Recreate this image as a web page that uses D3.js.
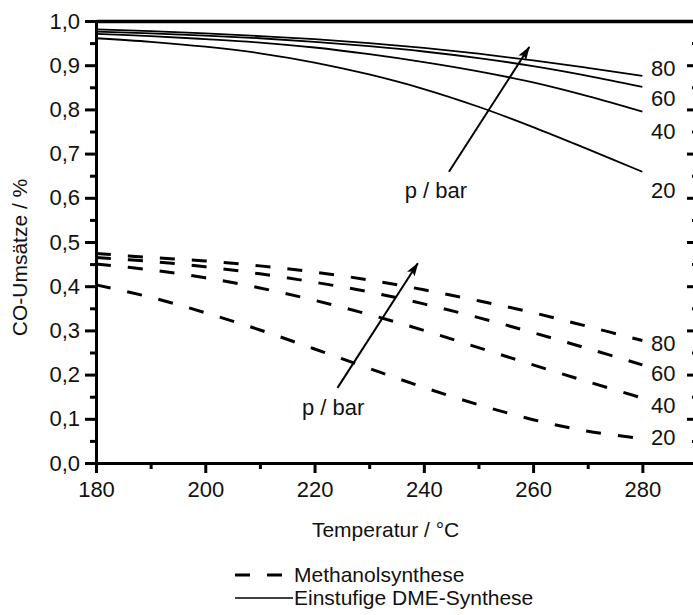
<!DOCTYPE html>
<html>
<head>
<meta charset="utf-8">
<script src="https://cdn.jsdelivr.net/npm/d3@7"></script>
<style>
  html, body { margin: 0; padding: 0; background: #fff; }
  svg text { font-family: "Liberation Sans", Arial, sans-serif; fill: #111; }
</style>
</head>
<body>
<svg id="chart" width="693" height="615"></svg>
<script>
// Temperatures (°C) at which the conversions are given
const temperatures = [180, 190, 200, 210, 220, 230, 240, 250, 260, 270, 280];
const pressures = [20, 40, 60, 80];

// CO conversion, single-step DME synthesis (solid lines), per pressure in bar
const dme20 = [0.961, 0.953, 0.942, 0.927, 0.906, 0.879, 0.846, 0.806, 0.760, 0.710, 0.659];
const dme40 = [0.971, 0.966, 0.959, 0.951, 0.940, 0.925, 0.907, 0.886, 0.861, 0.830, 0.795];
const dme60 = [0.976, 0.972, 0.967, 0.961, 0.953, 0.943, 0.931, 0.916, 0.898, 0.876, 0.851];
const dme80 = [0.981, 0.977, 0.972, 0.966, 0.959, 0.950, 0.939, 0.926, 0.911, 0.894, 0.876];

// CO conversion, methanol synthesis (dashed lines), per pressure in bar
const meoh20 = [0.403, 0.375, 0.340, 0.301, 0.258, 0.214, 0.171, 0.132, 0.098, 0.072, 0.055];
const meoh40 = [0.450, 0.437, 0.419, 0.396, 0.368, 0.336, 0.300, 0.261, 0.222, 0.184, 0.147];
const meoh60 = [0.465, 0.456, 0.444, 0.428, 0.409, 0.387, 0.360, 0.329, 0.295, 0.259, 0.222];
const meoh80 = [0.474, 0.465, 0.457, 0.446, 0.432, 0.414, 0.392, 0.367, 0.340, 0.309, 0.277];

// Vertical positions (conversion) of the pressure labels at the curve ends
const dmeLabelPos = [0.618, 0.751, 0.826, 0.894];
const meohLabelPos = [0.059, 0.131, 0.204, 0.271];

// Axis ticks
const xMajor = [180, 200, 220, 240, 260, 280];
const xMinor = [190, 210, 230, 250, 270, 290];
const yMajor = [0, 0.1, 0.2, 0.3, 0.4, 0.5, 0.6, 0.7, 0.8, 0.9, 1.0];
const yMinor = [0.05, 0.15, 0.25, 0.35, 0.45, 0.55, 0.65, 0.75, 0.85, 0.95];

// Pressure arrows: [tempFrom, convFrom, tempTo, convTo]
const arrowDme = [244.6, 0.659, 259.3, 0.941];
const arrowMeoh = [224.2, 0.170, 238.9, 0.452];
const arrowLabel = "p / bar";

const xLabel = "Temperatur / °C";
const yLabel = "CO-Umsätze / %";
const legendItems = ["Methanolsynthese", "Einstufige DME-Synthese"];

const svg = d3.select("#chart");
const plotLeft = 96, plotRight = 697, plotTop = 21, plotBottom = 463;

const x = d3.scaleLinear().domain([180, 290]).range([plotLeft, plotRight]);
const y = d3.scaleLinear().domain([0, 1]).range([plotBottom, plotTop]);

const deLocale = d3.formatLocale({ decimal: ",", thousands: ".", grouping: [3], currency: ["", " €"] });
const fmtY = deLocale.format(".1f");

const FONT = 22;

// ---- axes ----
function styleAxis(g, width) {
  g.selectAll(".domain").attr("stroke", "#000").attr("stroke-width", width);
  g.selectAll(".tick line").attr("stroke", "#000").attr("stroke-width", 3);
  g.selectAll(".tick text").attr("font-size", FONT).attr("fill", "#111")
    .attr("font-family", "'Liberation Sans', Arial, sans-serif");
}

// bottom
svg.append("g").attr("transform", `translate(0,${plotBottom})`)
  .call(d3.axisBottom(x).tickValues(xMinor).tickSize(6).tickFormat(""))
  .call(g => styleAxis(g, 3));
svg.append("g").attr("transform", `translate(0,${plotBottom})`)
  .call(d3.axisBottom(x).tickValues(xMajor).tickSize(10).tickPadding(8).tickFormat(d3.format("d")))
  .call(g => styleAxis(g, 3));

// left
svg.append("g").attr("transform", `translate(${plotLeft},0)`)
  .call(d3.axisLeft(y).tickValues(yMinor).tickSize(6).tickFormat(""))
  .call(g => styleAxis(g, 3));
svg.append("g").attr("transform", `translate(${plotLeft},0)`)
  .call(d3.axisLeft(y).tickValues(yMajor).tickSize(11).tickPadding(5).tickFormat(fmtY))
  .call(g => styleAxis(g, 3));

// right (ticks inward)
svg.append("g").attr("transform", `translate(${plotRight},0)`)
  .call(d3.axisLeft(y).tickValues(yMinor).tickSize(5).tickFormat(""))
  .call(g => styleAxis(g, 3));
svg.append("g").attr("transform", `translate(${plotRight},0)`)
  .call(d3.axisLeft(y).tickValues(yMajor).tickSize(10).tickFormat(""))
  .call(g => styleAxis(g, 3));

// top frame
svg.append("g").attr("transform", `translate(0,${plotTop})`)
  .call(d3.axisTop(x).tickValues([]).tickSizeOuter(0))
  .call(g => styleAxis(g, 3.5));

// axis titles
svg.append("text")
  .attr("x", x(233)).attr("y", 537)
  .attr("text-anchor", "middle").attr("font-size", FONT - 1)
  .text(xLabel);
svg.append("text")
  .attr("transform", `translate(27,${y(0.465)}) rotate(-90)`)
  .attr("text-anchor", "middle").attr("font-size", FONT - 1)
  .text(yLabel);

// ---- curves ----
const line = d3.line()
  .x((d, i) => x(temperatures[i]))
  .y(d => y(d))
  .curve(d3.curveCatmullRom.alpha(0.5));

const dmeSeries = [dme20, dme40, dme60, dme80];
const meohSeries = [meoh20, meoh40, meoh60, meoh80];

svg.append("g").selectAll("path").data(dmeSeries).join("path")
  .attr("d", line).attr("fill", "none")
  .attr("stroke", "#000").attr("stroke-width", 1.8);

svg.append("g").selectAll("path").data(meohSeries).join("path")
  .attr("d", line).attr("fill", "none")
  .attr("stroke", "#000").attr("stroke-width", 3)
  .attr("stroke-dasharray", "15,17");

// pressure labels
const labelX = 651;
svg.append("g").selectAll("text").data(pressures).join("text")
  .attr("x", labelX).attr("y", (d, i) => y(dmeLabelPos[i]))
  .attr("dy", "0.35em").attr("font-size", FONT)
  .text(d => d);
svg.append("g").selectAll("text").data(pressures).join("text")
  .attr("x", labelX).attr("y", (d, i) => y(meohLabelPos[i]))
  .attr("dy", "0.35em").attr("font-size", FONT)
  .text(d => d);

// ---- arrows ----
svg.append("defs").append("marker")
  .attr("id", "head").attr("viewBox", "0 0 14 9")
  .attr("refX", 13).attr("refY", 4.5)
  .attr("markerWidth", 14).attr("markerHeight", 9)
  .attr("markerUnits", "userSpaceOnUse")
  .attr("orient", "auto")
  .append("path").attr("d", "M0,0 L14,4.5 L0,9 L3,4.5 Z").attr("fill", "#000");

[arrowDme, arrowMeoh].forEach(a => {
  svg.append("line")
    .attr("x1", x(a[0])).attr("y1", y(a[1]))
    .attr("x2", x(a[2])).attr("y2", y(a[3]))
    .attr("stroke", "#000").attr("stroke-width", 2)
    .attr("marker-end", "url(#head)");
});

svg.append("text").attr("x", x(236.5)).attr("y", y(0.60))
  .attr("font-size", FONT).text(arrowLabel);
svg.append("text").attr("x", x(217.7)).attr("y", y(0.109))
  .attr("font-size", FONT).text(arrowLabel);

// ---- legend ----
const legend = svg.append("g");
legend.append("line").attr("x1", 235).attr("x2", 283).attr("y1", 575).attr("y2", 575)
  .attr("stroke", "#000").attr("stroke-width", 3).attr("stroke-dasharray", "15,17");
legend.append("line").attr("x1", 235).attr("x2", 293).attr("y1", 598).attr("y2", 598)
  .attr("stroke", "#000").attr("stroke-width", 1.5);
legend.selectAll("text").data(legendItems).join("text")
  .attr("x", 294).attr("y", (d, i) => 575 + i * 23)
  .attr("dy", "0.35em").attr("font-size", FONT - 1)
  .text(d => d);
</script>
</body>
</html>
